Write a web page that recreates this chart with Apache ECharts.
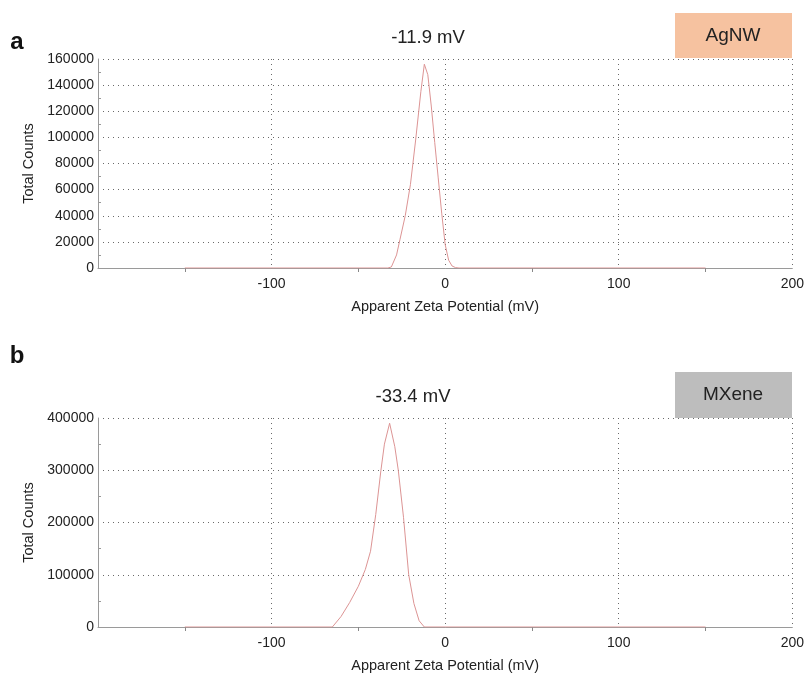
<!DOCTYPE html>
<html>
<head>
<meta charset="utf-8">
<script src="https://cdn.jsdelivr.net/npm/echarts@6/dist/echarts.min.js"></script>
<style>
  html, body { margin: 0; padding: 0; background: #fff; }
  #plot { width: 807px; height: 677px; }
</style>
</head>
<body>
<div id="plot"></div>
<script>
// panel a: AgNW
var agnwX = [-150, -33, -31, -28, -26, -23, -20, -17, -14, -12, -10, -8, -6, -4, -2, 0, 2, 4, 6, 8, 150];
var agnwY = [0, 0, 800, 10000, 22000, 40000, 64000, 98000, 135000, 156000, 148000, 124000, 96000, 69000, 42000, 18000, 6000, 1500, 300, 0, 0];

// panel b: MXene
var mxeneX = [-150, -65, -60, -55, -50, -46, -43, -40, -37, -35, -32, -29, -27, -24, -21, -18, -15, -12, 150];
var mxeneY = [0, 0, 20000, 47000, 78000, 110000, 145000, 215000, 300000, 350000, 390000, 345000, 300000, 210000, 100000, 45000, 12000, 0, 0];

var xTicks = [-100, 0, 100, 200];
var peakLabels = ['-11.9 mV', '-33.4 mV'];
var sampleNames = ['AgNW', 'MXene'];

var myChart = echarts.init(document.getElementById('plot'));

var font = 'Liberation Sans, Arial, sans-serif';

function makeX(gridIndex) {
  return {
    type: 'value',
    gridIndex: gridIndex,
    min: -200,
    max: 200,
    interval: 100,
    name: 'Apparent Zeta Potential (mV)',
    nameLocation: 'middle',
    nameGap: 31,
    nameTextStyle: { fontFamily: font, fontSize: 14.5, color: '#222' },
    axisLine: { show: true, onZero: false, lineStyle: { color: '#9a9a9a', width: 1 } },
    axisTick: { show: false },
    minorTick: { show: true, splitNumber: 2, length: 4, lineStyle: { color: '#888' } },
    axisLabel: {
      fontFamily: font, fontSize: 14, color: '#222', margin: 9,
      formatter: function (v) { return xTicks.indexOf(v) >= 0 ? String(v) : ''; }
    },
    splitLine: { show: true, lineStyle: { color: '#6a6a6a', type: [1, 4], width: 1 } }
  };
}

function makeY(gridIndex, max, interval) {
  return {
    type: 'value',
    gridIndex: gridIndex,
    min: 0,
    max: max,
    interval: interval,
    name: 'Total Counts',
    nameLocation: 'middle',
    nameGap: 61,
    nameTextStyle: { fontFamily: font, fontSize: 14.5, color: '#222' },
    axisLine: { show: true, onZero: false, lineStyle: { color: '#9a9a9a', width: 1 } },
    axisTick: { show: false, inside: true },
    minorTick: { show: true, splitNumber: 2, length: 3, lineStyle: { color: '#999' } },
    axisLabel: {
      fontFamily: font, fontSize: 14, color: '#222', margin: 4,
      formatter: function (v) { return String(v); }
    },
    splitLine: { show: true, lineStyle: { color: '#6a6a6a', type: [1, 4], width: 1 } }
  };
}

var option = {
  backgroundColor: '#fff',
  animation: false,
  grid: [
    { left: 98, top: 59, width: 695, height: 209 },
    { left: 98, top: 418, width: 695, height: 209 }
  ],
  xAxis: [makeX(0), makeX(1)],
  yAxis: [makeY(0, 160000, 20000), makeY(1, 400000, 100000)],
  series: [
    {
      type: 'line', xAxisIndex: 0, yAxisIndex: 0, showSymbol: false,
      lineStyle: { color: '#dc9494', width: 1 },
      data: agnwX.map(function (x, i) { return [x, agnwY[i]]; })
    },
    {
      type: 'line', xAxisIndex: 1, yAxisIndex: 1, showSymbol: false,
      lineStyle: { color: '#dc9494', width: 1 },
      data: mxeneX.map(function (x, i) { return [x, mxeneY[i]]; })
    }
  ],
  graphic: [
    { type: 'text', x: 17, y: 42, style: { text: 'a', font: 'bold 24px ' + font, fill: '#111', textAlign: 'center', textVerticalAlign: 'middle' } },
    { type: 'text', x: 17, y: 356, style: { text: 'b', font: 'bold 24px ' + font, fill: '#111', textAlign: 'center', textVerticalAlign: 'middle' } },
    { type: 'text', x: 428, y: 38, style: { text: peakLabels[0], font: '18.5px ' + font, fill: '#222', textAlign: 'center', textVerticalAlign: 'middle' } },
    { type: 'text', x: 413, y: 397, style: { text: peakLabels[1], font: '18.5px ' + font, fill: '#222', textAlign: 'center', textVerticalAlign: 'middle' } },
    { type: 'rect', shape: { x: 675, y: 13, width: 117, height: 45 }, style: { fill: '#f6c2a0' } },
    { type: 'text', x: 733, y: 36, style: { text: sampleNames[0], font: '19px ' + font, fill: '#222', textAlign: 'center', textVerticalAlign: 'middle' } },
    { type: 'rect', shape: { x: 675, y: 372, width: 117, height: 46 }, style: { fill: '#bdbdbd' } },
    { type: 'text', x: 733, y: 395, style: { text: sampleNames[1], font: '19px ' + font, fill: '#222', textAlign: 'center', textVerticalAlign: 'middle' } }
  ]
};

myChart.setOption(option);
</script>
</body>
</html>
